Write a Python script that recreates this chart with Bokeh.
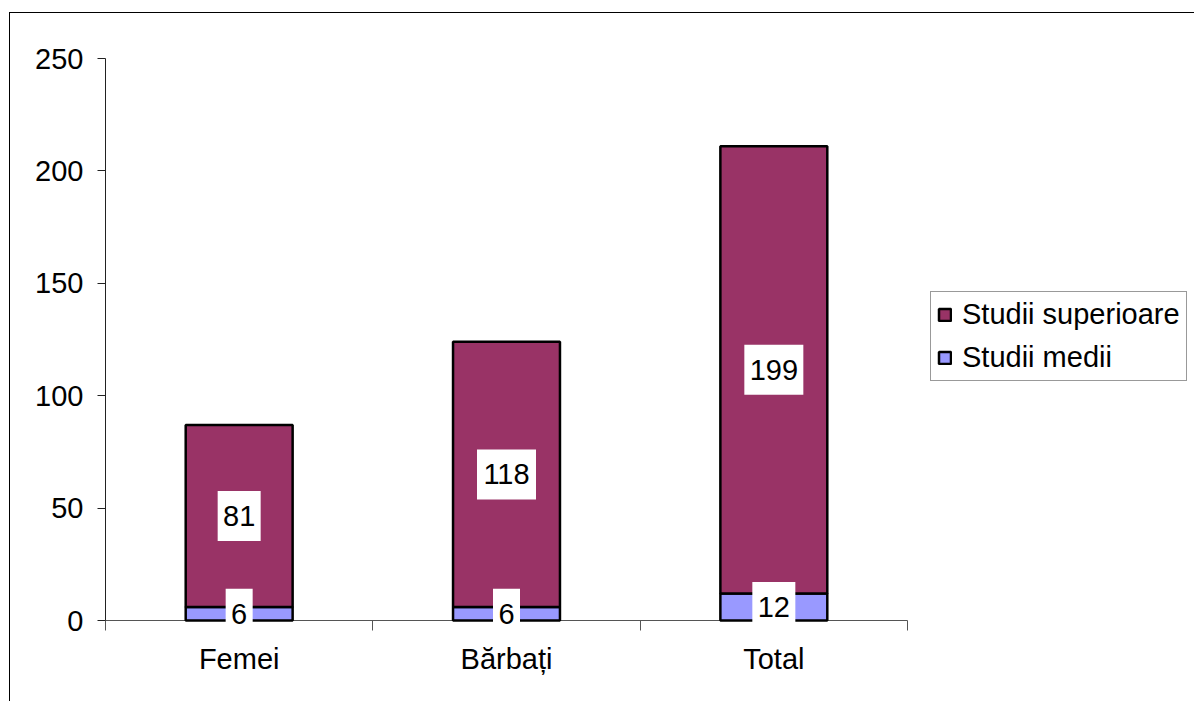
from bokeh.plotting import figure
from bokeh.models import (ColumnDataSource, FixedTicker, Legend, LegendItem,
                          Range1d)
from bokeh.core.properties import value
from bokeh.embed import file_html
from bokeh.resources import INLINE

categories = ["Femei", "Bărbați", "Total"]
studii_medii = [6, 6, 12]
studii_superioare = [81, 118, 199]
y_ticks = [0, 50, 100, 150, 200, 250]

FONT = "Liberation Sans"
FS = "29px"

n = len(categories)
xc = [i + 0.5 for i in range(n)]
lab1 = [str(v) for v in studii_medii]
lab2 = [str(v) for v in studii_superioare]
src = ColumnDataSource(dict(
    x=xc,
    top1=studii_medii,
    top2=[a + b for a, b in zip(studii_medii, studii_superioare)],
    mid1=[a / 2 for a in studii_medii],
    mid2=[a + b / 2 for a, b in zip(studii_medii, studii_superioare)],
    lab1=lab1,
    lab2=lab2,
    w1=[11 + 16 * len(s) for s in lab1],
    w2=[11 + 16 * len(s) for s in lab2],
))

# frame spans to the right edge; the category area occupies 802 of 1090 px
x_end = n * 1090 / 802
# frame extends 10 px below zero so the small value labels are not cut
y_start = -10 * 250 / 562

p = figure(width=1185, height=689, output_backend="svg", toolbar_location=None,
           x_range=Range1d(0, x_end), y_range=Range1d(y_start, 250),
           min_border_left=95, min_border_right=0, min_border_top=45,
           min_border_bottom=72)
p.margin = (12, 0, 0, 9)
p.styles = {"border-left": "1px solid black", "border-top": "1px solid black"}
p.outline_line_color = None
p.grid.grid_line_color = None

# category axis baseline at value 0
p.segment(x0=[0], y0=[0], x1=[n], y1=[0], line_color="#555555", line_width=1)

r1 = p.vbar(x="x", bottom=0, top="top1", width=0.4, source=src,
            fill_color="#9999FF", line_color="black", line_width=2.5)
r2 = p.vbar(x="x", bottom="top1", top="top2", width=0.4, source=src,
            fill_color="#993366", line_color="black", line_width=2.5)

for ycol, tcol, wcol in (("mid2", "lab2", "w2"), ("mid1", "lab1", "w1")):
    p.rect(x="x", y=ycol, width=wcol, height=50, width_units="screen",
           height_units="screen", source=src, fill_color="white",
           line_color=None)
    p.text(x="x", y=ycol, text=tcol, source=src, text_align="center",
           text_baseline="middle", text_font=value(FONT), text_font_size=FS,
           text_color="black")

# axes
xa = p.xaxis[0]
xa.bounds = (0, n)
xa.ticker = FixedTicker(ticks=xc, minor_ticks=list(range(n + 1)))
xa.major_label_overrides = {x: c for x, c in zip(xc, categories)}
xa.major_tick_out = 0
xa.major_tick_in = 0
xa.minor_tick_out = 0
xa.minor_tick_in = 10
xa.minor_tick_line_color = "#555555"
xa.axis_line_color = None
xa.major_label_text_font = FONT
xa.major_label_text_font_size = FS
xa.major_label_text_color = "black"
xa.major_label_standoff = 12

ya = p.yaxis[0]
ya.bounds = (0, 250)
ya.ticker = FixedTicker(ticks=y_ticks)
ya.minor_tick_line_color = None
ya.major_tick_out = 8
ya.major_tick_in = 0
ya.axis_line_color = "#222222"
ya.major_tick_line_color = "#222222"
ya.major_label_text_font = FONT
ya.major_label_text_font_size = FS
ya.major_label_text_color = "black"
ya.major_label_standoff = 14

legend = Legend(items=[LegendItem(label="Studii superioare", renderers=[r2]),
                       LegendItem(label="Studii medii", renderers=[r1])],
                location=(825, 249), orientation="vertical")
legend.label_text_font = FONT
legend.label_text_font_size = FS
legend.label_text_color = "black"
legend.glyph_width = 15
legend.glyph_height = 15
legend.label_height = 32
legend.spacing = 10
legend.padding = 6
legend.margin = 0
legend.label_standoff = 10
legend.border_line_color = "#333333"
legend.border_line_width = 1
legend.background_fill_alpha = 1
p.add_layout(legend, "center")

open("out.html", "w").write(file_html(p, INLINE))
